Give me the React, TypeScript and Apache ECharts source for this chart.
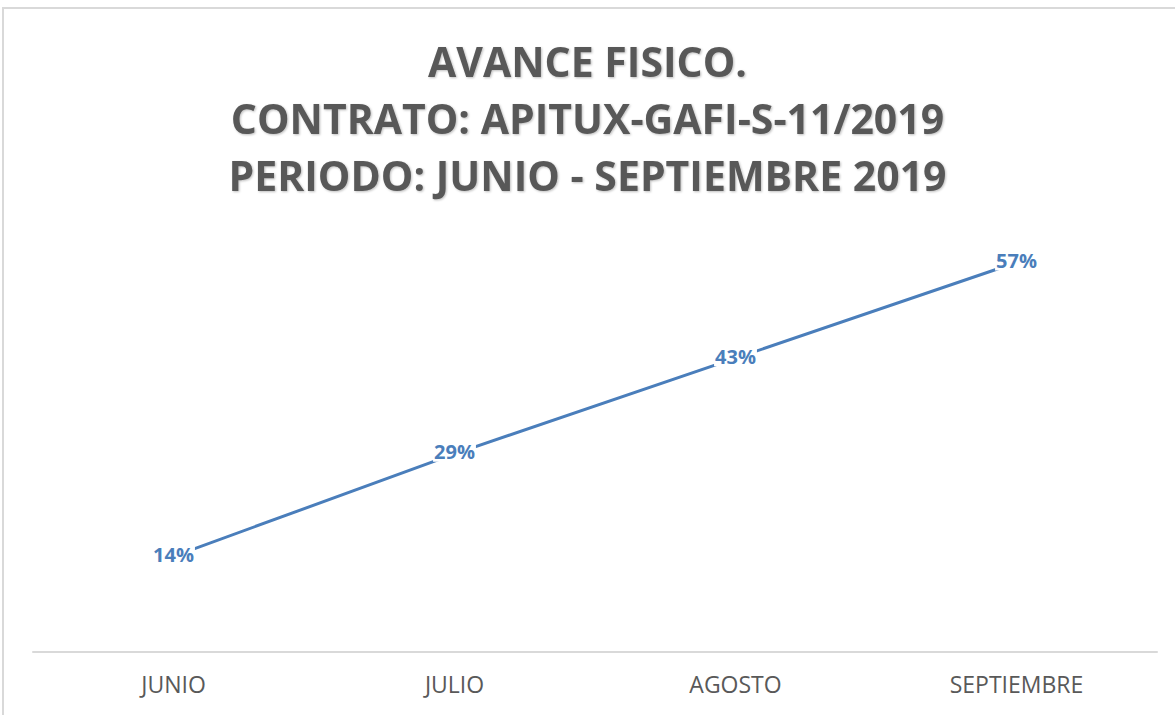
import React, { useEffect, useRef } from "react";
import * as echarts from "echarts";

const categories = ["JUNIO", "JULIO", "AGOSTO", "SEPTIEMBRE"];
const avance = [0.14, 0.29, 0.43, 0.57];
const titleLines = [
  "AVANCE FISICO.",
  "CONTRATO: APITUX-GAFI-S-11/2019",
  "PERIODO: JUNIO - SEPTIEMBRE 2019",
];

const FONT = "'Open Sans', 'Noto Sans', sans-serif";

export default function App() {
  const ref = useRef<HTMLDivElement>(null);
  useEffect(() => {
    if (!ref.current) return;
    const chart = echarts.init(ref.current, null, { renderer: "svg" });
    chart.setOption({
      animation: false,
      backgroundColor: "#ffffff",
      title: {
        text: titleLines.join("\n"),
        left: "center",
        top: 27,
        textStyle: {
          fontFamily: FONT,
          fontSize: 41,
          fontWeight: "bold",
          color: "#595959",
          lineHeight: 57,
          textShadowColor: "rgba(0,0,0,0.25)",
          textShadowBlur: 2,
          textShadowOffsetX: 1,
          textShadowOffsetY: 1,
        },
      },
      graphic: [
        {
          type: "rect",
          shape: { x: 3, y: 8, width: 1300, height: 900 },
          style: { fill: "none", stroke: "#d9d9d9", lineWidth: 2 },
          silent: true,
          z: -1,
        },
      ],
      grid: { left: 33, right: 18, top: 242, bottom: 63 },
      xAxis: {
        type: "category",
        data: categories,
        boundaryGap: true,
        axisLine: { lineStyle: { color: "#d9d9d9", width: 2 } },
        axisTick: { show: false },
        axisLabel: {
          fontFamily: FONT,
          fontSize: 23,
          color: "#595959",
          margin: 20,
        },
      },
      yAxis: {
        type: "value",
        min: 0,
        max: 0.6,
        show: false,
        splitLine: { show: false },
      },
      series: [
        {
          type: "line",
          data: avance,
          symbol: "circle",
          symbolSize: 2,
          showSymbol: true,
          itemStyle: { color: "rgba(74,126,187,0)", borderWidth: 0 },
          lineStyle: { color: "#4A7EBB", width: 3 },
          label: {
            show: true,
            position: "inside",
            offset: [0, -2],
            formatter: (p: any) => Math.round(p.value * 100) + "%",
            fontFamily: FONT,
            fontSize: 20,
            fontWeight: "bold",
            color: "#4A7EBB",
            backgroundColor: "#ffffff",
            padding: [0, 1],
          },
          z: 3,
        },
      ],
    });
    return () => chart.dispose();
  }, []);
  return (
    <div
      ref={ref}
      style={{ position: "fixed", left: 0, top: 0, width: 1175, height: 715 }}
    />
  );
}
